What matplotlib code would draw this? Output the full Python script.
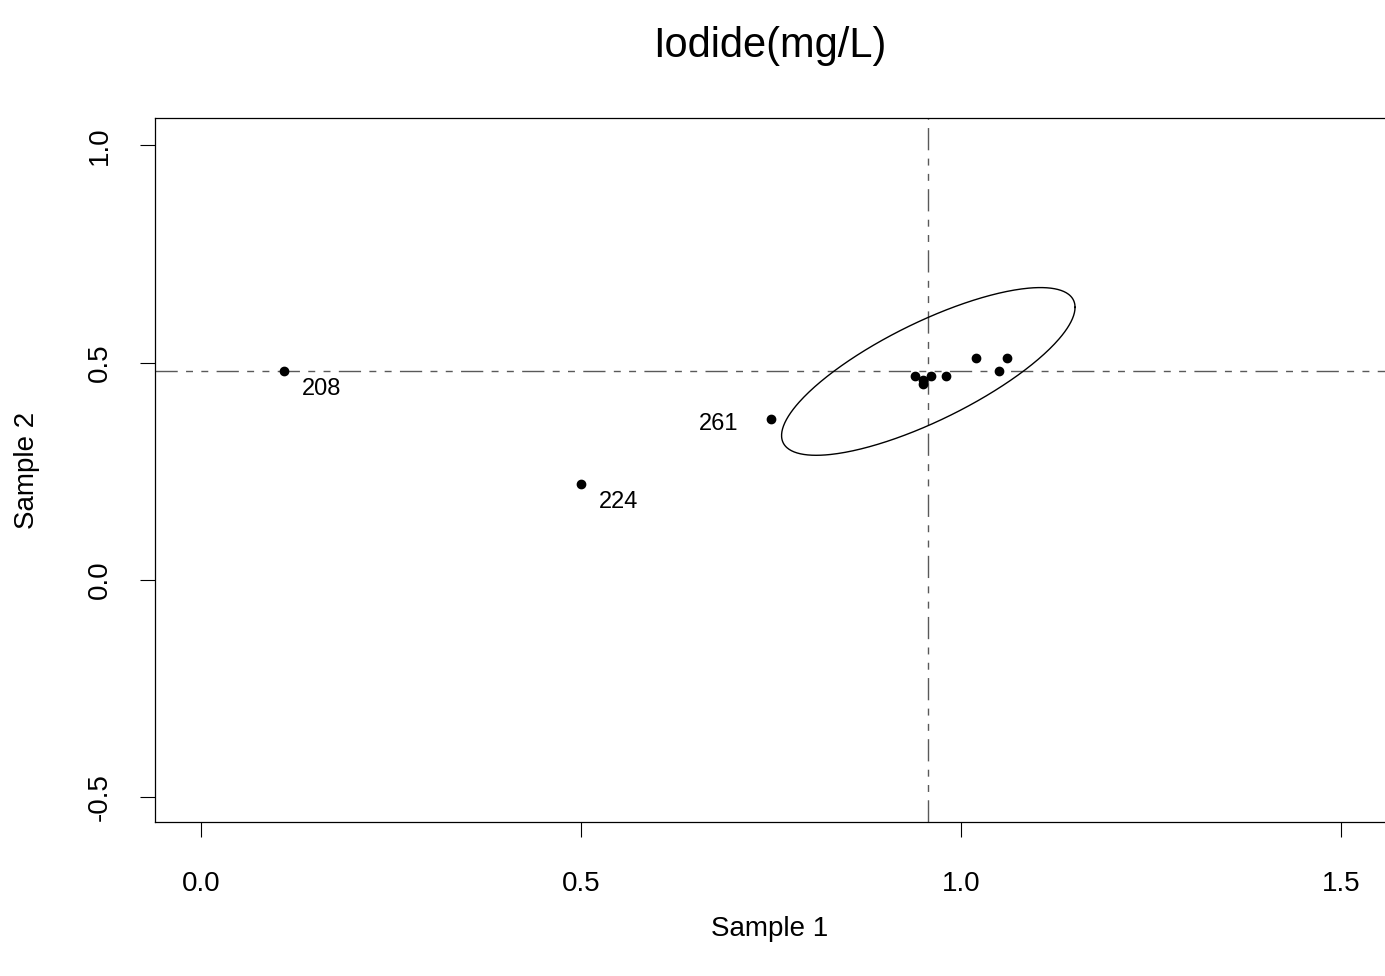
import numpy as np
import matplotlib
matplotlib.use("Agg")
import matplotlib.pyplot as plt

plt.rcParams['font.family'] = ['Liberation Sans', 'DejaVu Sans']

# Data
sample1 = [0.11, 0.50, 0.75, 0.94, 0.95, 0.95, 0.96, 0.98, 1.02, 1.06, 1.05]
sample2 = [0.48, 0.22, 0.37, 0.47, 0.46, 0.45, 0.47, 0.47, 0.51, 0.51, 0.48]
point_ids = ['208', '224', '261', '', '', '', '', '', '', '', '']
median_x = 0.957
median_y = 0.48
ellipse_radius = 0.193
ellipse_rho = 0.764
xticks = [0.0, 0.5, 1.0, 1.5]
yticks = [-0.5, 0.0, 0.5, 1.0]

W, H = 1385, 976
fig = plt.figure(figsize=(W / 100, H / 100), dpi=100)
left_px, right_px, top_px, bottom_px = 155, 1395, 118, 821.7
ax = fig.add_axes([left_px / W, 1 - bottom_px / H, (right_px - left_px) / W, (bottom_px - top_px) / H])

x0, sx = 200.7, 760.3
y0, sy = 580.0, 434.5
ax.set_xlim((left_px - x0) / sx, (right_px - x0) / sx)
ax.set_ylim(-(bottom_px - y0) / sy, (y0 - top_px) / sy)

dash = (0, (16, 6, 5, 6, 5, 6))
ax.axvline(median_x, color='0.35', lw=1.0, linestyle=dash)
ax.axhline(median_y, color='0.35', lw=1.0, linestyle=dash)

t = np.linspace(0, 2 * np.pi, 400)
ex = median_x + ellipse_radius * np.cos(t)
ey = median_y + ellipse_radius * (ellipse_rho * np.cos(t) + np.sqrt(1 - ellipse_rho ** 2) * np.sin(t))
ax.plot(ex, ey, color='black', lw=1.0)

ax.plot(sample1, sample2, 'o', color='black', ms=6, mec='black')

for x, y, lab in zip(sample1, sample2, point_ids):
    if not lab:
        continue
    if lab == '261':
        ax.annotate(lab, (x, y), xytext=(-33, -5), textcoords='offset pixels',
                    ha='right', va='center', fontsize=17)
    else:
        ax.annotate(lab, (x, y), xytext=(18, -18), textcoords='offset pixels',
                    ha='left', va='center', fontsize=17)

ax.set_xticks(xticks)
ax.set_xticklabels([f"{v:.1f}" for v in xticks])
ax.set_yticks(yticks)
ax.set_yticklabels([f"{v:.1f}" for v in yticks], rotation=90, va='center')
ax.tick_params(axis='x', length=10.5, width=0.8, pad=25, labelsize=20)
ax.tick_params(axis='y', length=10.5, width=0.8, pad=20, labelsize=20)
for s in ax.spines.values():
    s.set_linewidth(0.9)

fig.text(770 / W, 1 - 46 / H, 'Iodide(mg/L)', ha='center', va='center', fontsize=30)
fig.text(770 / W, 1 - 929 / H, 'Sample 1', ha='center', va='center', fontsize=20)
fig.text(27 / W, 1 - 470 / H, 'Sample 2', ha='center', va='center', fontsize=20, rotation=90)

fig.savefig('out.png', dpi=100)
